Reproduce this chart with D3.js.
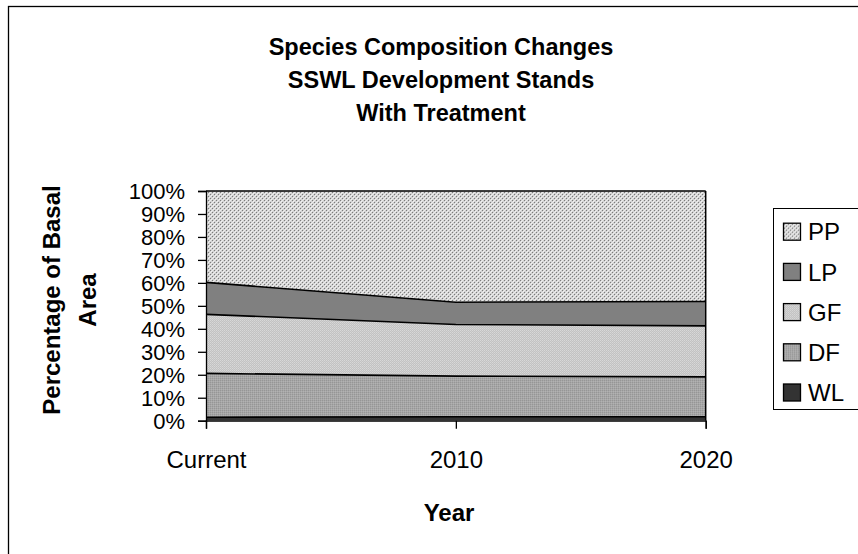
<!DOCTYPE html>
<html>
<head>
<meta charset="utf-8">
<script src="https://cdn.jsdelivr.net/npm/d3@7"></script>
<style>
  html, body { margin: 0; padding: 0; background: #fff; }
  svg { display: block; font-family: "Liberation Sans", Arial, sans-serif; }
</style>
</head>
<body>
<svg id="chart" width="858" height="554"></svg>
<script>
// ---- data ----
const categories = ["Current", "2010", "2020"];
const seriesNames = ["WL", "DF", "GF", "LP", "PP"];
const WL = [1.5, 1.7, 1.7];
const DF = [19.1, 17.7, 17.4];
const GF = [25.7, 22.5, 22.2];
const LP = [13.9, 9.7, 10.6];
const PP = [39.8, 48.4, 48.1];
const yTickValues = [0, 0.1, 0.2, 0.3, 0.4, 0.5, 0.6, 0.7, 0.8, 0.9, 1.0];
const titleLines = ["Species Composition Changes", "SSWL Development Stands", "With Treatment"];
const yTitleLines = ["Percentage of Basal", "Area"];
const xTitle = "Year";

const seriesValues = { WL, DF, GF, LP, PP };
const rows = categories.map((c, i) => {
  const r = { cat: c };
  seriesNames.forEach(s => r[s] = seriesValues[s][i]);
  return r;
});

const svg = d3.select("#chart");
const defs = svg.append("defs");

// patterns
function pat(id, size, bg, cells) {
  const p = defs.append("pattern").attr("id", id).attr("patternUnits", "userSpaceOnUse")
    .attr("width", size).attr("height", size);
  p.append("rect").attr("width", size).attr("height", size).attr("fill", bg);
  cells.forEach(c => p.append("rect").attr("x", c[0]).attr("y", c[1]).attr("width", c[2]).attr("height", c[3]).attr("fill", c[4]));
}
pat("pPP", 4, "#d2d2d2", [[0,0,1,1,"#7c7c7c"],[2,2,1,1,"#7c7c7c"],[1,1,1,1,"#f2f2f2"],[3,3,1,1,"#f2f2f2"],[2,0,1,1,"#ececec"],[0,2,1,1,"#ececec"]]);
pat("pGF", 2, "#c2c2c2", [[0,0,1,1,"#d8d8d8"],[1,1,1,1,"#d0d0d0"]]);
pat("pDF", 2, "#a6a6a6", [[0,0,1,1,"#969696"],[1,1,1,1,"#b2b2b2"]]);

const fills = { PP: "url(#pPP)", LP: "#808080", GF: "url(#pGF)", DF: "url(#pDF)", WL: "#333333" };

// outer chart border (extends beyond view on right/bottom)
svg.append("rect").attr("x", 8.5).attr("y", 6.5).attr("width", 900).attr("height", 600)
  .attr("fill", "#fff").attr("stroke", "#000").attr("stroke-width", 1.3);

const plot = { left: 206, right: 705.7, top: 191, bottom: 420.7 };

const x = d3.scalePoint().domain(categories).range([plot.left, plot.right]).padding(0);
const y = d3.scaleLinear().domain([0, 1]).range([plot.bottom, plot.top]);

const stack = d3.stack().keys(seriesNames).offset(d3.stackOffsetExpand);
const layers = stack(rows);

const area = d3.area().x(d => x(d.data.cat)).y0(d => y(d[0])).y1(d => y(d[1]));
const topLine = d3.line().x(d => x(d.data.cat)).y(d => y(d[1]));

svg.append("g").selectAll("path").data(layers).join("path")
  .attr("d", area).attr("fill", d => fills[d.key]).attr("stroke", "none");
svg.append("g").selectAll("path").data(layers).join("path")
  .attr("d", topLine).attr("fill", "none").attr("stroke", "#000").attr("stroke-width", 1.6);

// plot border right side
svg.append("line").attr("x1", plot.right).attr("x2", plot.right).attr("y1", plot.top).attr("y2", plot.bottom)
  .attr("stroke", "#000").attr("stroke-width", 1.5);

// y axis
const yAxis = d3.axisLeft(y).tickValues(yTickValues).tickFormat(d3.format(".0%")).tickSize(8).tickPadding(13);
const gy = svg.append("g").attr("transform", `translate(${plot.left},0)`).call(yAxis);
gy.select(".domain").attr("stroke", "#000").attr("stroke-width", 1.3);
gy.selectAll(".tick line").attr("stroke", "#000").attr("stroke-width", 1.3);
gy.selectAll(".tick text").attr("font-size", 22).attr("fill", "#000")
  .attr("font-family", "Liberation Sans, Arial, sans-serif").attr("dy", "0.35em");

// x axis
const xAxis = d3.axisBottom(x).tickSize(8).tickPadding(22);
const gx = svg.append("g").attr("transform", `translate(0,${plot.bottom})`).call(xAxis);
gx.select(".domain").attr("stroke", "#000").attr("stroke-width", 1.3);
gx.selectAll(".tick line").attr("stroke", "#000").attr("stroke-width", 1.3);
gx.selectAll(".tick text").attr("font-size", 24).attr("fill", "#000")
  .attr("font-family", "Liberation Sans, Arial, sans-serif");

// title
svg.append("g").selectAll("text").data(titleLines).join("text")
  .attr("x", 441).attr("y", (d, i) => 55 + i * 33)
  .attr("text-anchor", "middle").attr("font-size", 23.5).attr("font-weight", "bold").text(d => d);

// x title
svg.append("text").attr("x", 449).attr("y", 521).attr("text-anchor", "middle")
  .attr("font-size", 24).attr("font-weight", "bold").text(xTitle);

// y title
svg.append("g").selectAll("text").data(yTitleLines).join("text")
  .attr("transform", (d, i) => `translate(${60 + i * 36},300) rotate(-90)`)
  .attr("text-anchor", "middle").attr("font-size", 24).attr("font-weight", "bold").text(d => d);

// legend
const legend = svg.append("g");
legend.append("rect").attr("x", 773.5).attr("y", 208.5).attr("width", 120).attr("height", 201)
  .attr("fill", "#fff").attr("stroke", "#000").attr("stroke-width", 1);
const legendOrder = seriesNames.slice().reverse();
const li = legend.selectAll("g.item").data(legendOrder).join("g").attr("class", "item")
  .attr("transform", (d, i) => `translate(0,${231.7 + i * 40.2})`);
li.append("rect").attr("x", 783.5).attr("y", -8.5).attr("width", 17).attr("height", 17)
  .attr("fill", d => fills[d]).attr("stroke", "#000").attr("stroke-width", 1.3);
li.append("text").attr("x", 808).attr("y", 0).attr("dy", "0.36em")
  .attr("font-size", 24).text(d => d);
</script>
</body>
</html>
